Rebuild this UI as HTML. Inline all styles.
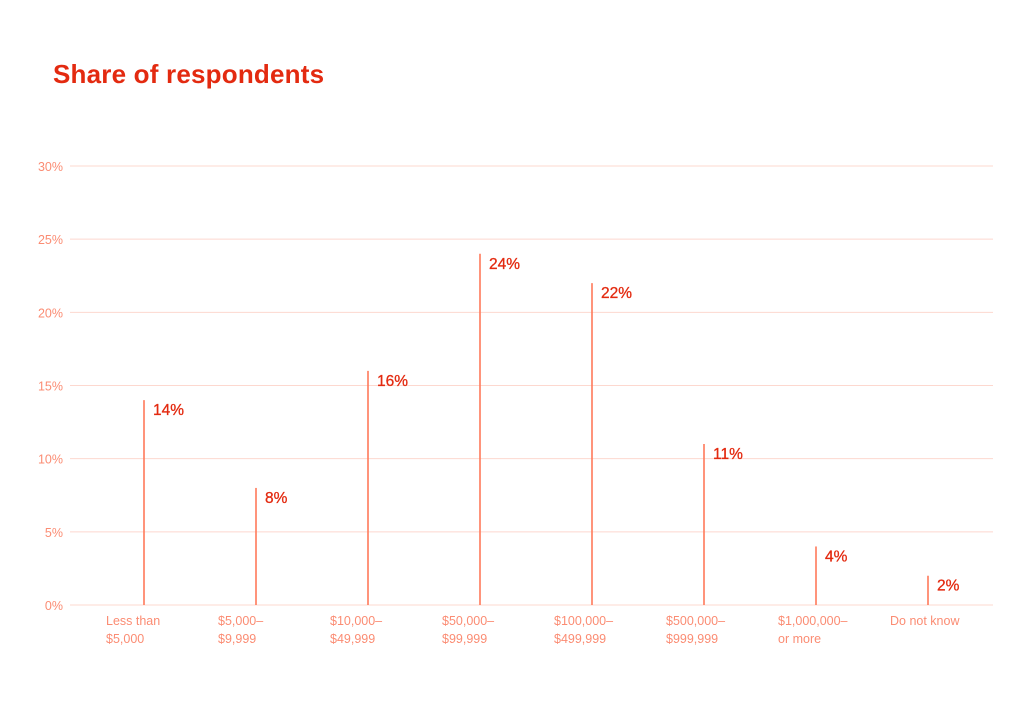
<!DOCTYPE html>
<html><head><meta charset="utf-8"><style>
body{margin:0;background:#fff;font-family:"Liberation Sans",sans-serif}
svg{display:block}
</style></head><body>
<svg id="c" width="1024" height="724" xmlns="http://www.w3.org/2000/svg">
<text x="53" y="83" font-size="26" font-weight="bold" fill="#e32a10" style="letter-spacing:0.2px">Share of respondents</text>
<g id="grid"></g><g id="bars"></g>
</svg>
<script>
const categories=[["Less than","$5,000"],["$5,000–","$9,999"],["$10,000–","$49,999"],["$50,000–","$99,999"],["$100,000–","$499,999"],["$500,000–","$999,999"],["$1,000,000–","or more"],["Do not know"]];
const values=[14,8,16,24,22,11,4,2];
const yTicks=[0,5,10,15,20,25,30];
const NS="http://www.w3.org/2000/svg";
const y0=605,y1=166,yMax=30;
function yScale(v){return y0-(y0-y1)*v/yMax;}
function xScale(i){return 144+i*112;}
const grid=document.getElementById('grid'),bars=document.getElementById('bars');
function mk(tag,attrs,parent,text){const e=document.createElementNS(NS,tag);for(const k in attrs)e.setAttribute(k,attrs[k]);if(text!==undefined)e.textContent=text;parent.appendChild(e);return e;}
yTicks.forEach(t=>{
  const l=mk('line',{x1:70,x2:993,y1:yScale(t),y2:yScale(t),stroke:'#fdd8cf','stroke-width':1},grid);
  
  
  const tx=mk('text',{x:63,y:yScale(t)+5,'text-anchor':'end','font-size':12.5,fill:'#fb8c73'},grid,t+'%');
  
  
});
values.forEach((v,i)=>{
  const x=xScale(i);
  const b=mk('line',{x1:x,x2:x,y1:yScale(v),y2:y0,stroke:'#ff7a5a','stroke-width':1.6},bars);
  
  
  const vl=mk('text',{x:x+9,y:yScale(v)+15,'font-size':15.5,fill:'#e32a10','stroke':'#e32a10','stroke-width':0.3},bars,v+'%');
  
  
  categories[i].forEach((s,j)=>{
    const c=mk('text',{x:x-38,y:625+j*18,'font-size':12.5,fill:'#fb8c73'},bars,s);
    
    
  });
});
</script>
</body></html>
